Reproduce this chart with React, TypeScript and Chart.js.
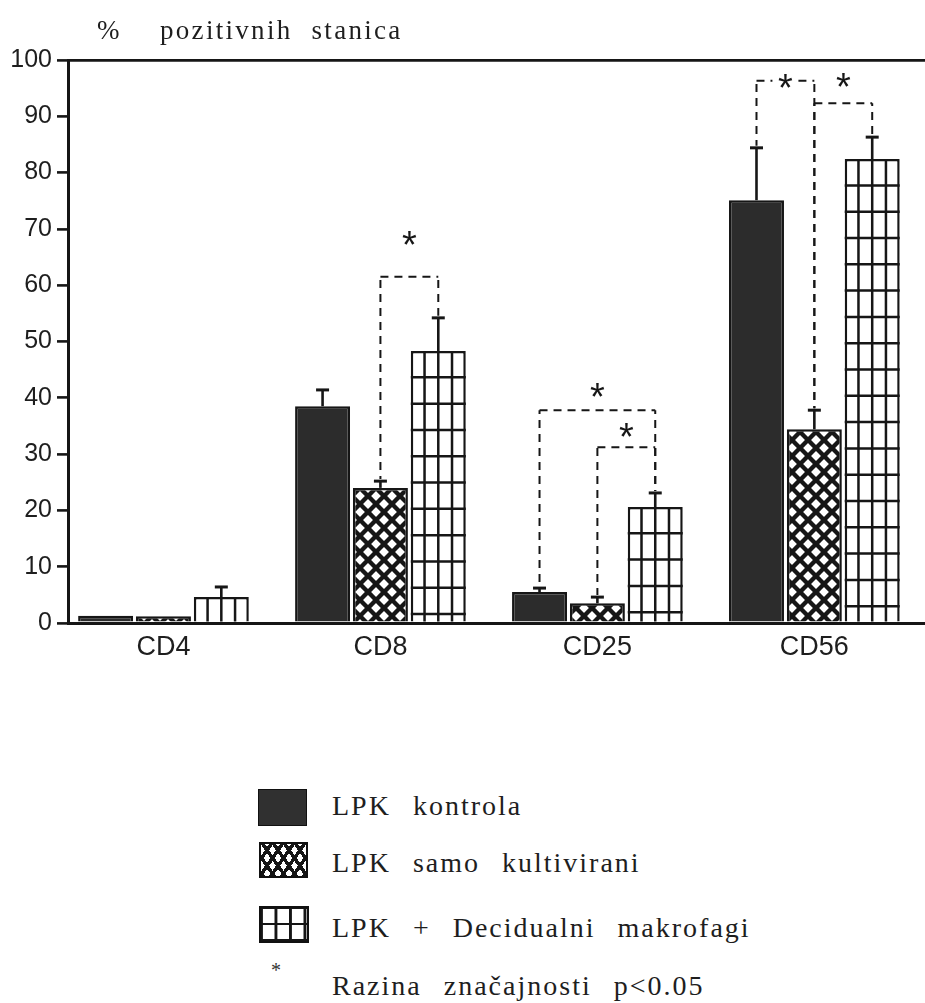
import React, { useEffect, useRef } from 'react';
import { Chart, registerables } from 'chart.js';

Chart.register(...registerables);

const CATEGORIES = ['CD4', 'CD8', 'CD25', 'CD56'];
const SERIES_NAMES = ['LPK kontrola', 'LPK samo kultivirani', 'LPK + Decidualni makrofagi'];
const CONTROL = [1.3, 38.5, 5.5, 75.1];
const CONTROL_SD = [0, 2.9, 0.7, 9.3];
const CULTURED = [1.2, 24.0, 3.5, 34.4];
const CULTURED_SD = [0, 1.2, 1.1, 3.4];
const MACROPHAGE = [4.6, 48.3, 20.6, 82.4];
const MACROPHAGE_SD = [1.8, 5.9, 2.5, 3.9];
const Y_TICKS = [0, 10, 20, 30, 40, 50, 60, 70, 80, 90, 100];

// significance brackets (category index, bar from, bar to, bracket level, star level)
const SIG_CATEGORY = [1, 2, 2, 3, 3];
const SIG_FROM = [1, 0, 1, 0, 1];
const SIG_TO = [2, 2, 2, 1, 2];
const SIG_LEVEL = [61.5, 37.8, 31.2, 96.3, 92.3];
const SIG_STAR = [68.4, 41.4, 34.3, 96.3, 96.4];
const SIG_INLINE = [false, false, false, true, false];

const AXIS_UNIT = '%';
const AXIS_TITLE = 'pozitivnih stanica';
const NOTE_TEXT = 'Razina značajnosti p<0.05';

const INK = '#161616';
const SANS = '"Liberation Sans", Arial, sans-serif';
const SERIF = '"Liberation Serif", "Times New Roman", serif';
const DASH = [8, 6];
const DASH_PERIOD = 14;

function makeCrossPattern(): CanvasPattern | string {
  const c = document.createElement('canvas');
  const s = 16;
  c.width = s;
  c.height = s;
  const g = c.getContext('2d');
  if (!g) return '#555';
  g.fillStyle = '#ffffff';
  g.fillRect(0, 0, s, s);
  g.strokeStyle = INK;
  g.lineWidth = 4.4;
  const seg = (x1: number, y1: number, x2: number, y2: number) => {
    g.beginPath();
    g.moveTo(x1, y1);
    g.lineTo(x2, y2);
    g.stroke();
  };
  seg(-s, -s, 2 * s, 2 * s);
  seg(-s, 0, s, 2 * s);
  seg(0, -s, 2 * s, s);
  seg(2 * s, -s, -s, 2 * s);
  seg(s, -s, -s, s);
  seg(2 * s, 0, 0, 2 * s);
  const p = g.createPattern(c, 'repeat');
  return p || '#555';
}

const annotationPlugin = {
  id: 'annotations',
  afterDatasetsDraw(chart: any) {
    const ctx = chart.ctx as CanvasRenderingContext2D;
    const yScale = chart.scales.y;
    const values = [CONTROL, CULTURED, MACROPHAGE];
    const sds = [CONTROL_SD, CULTURED_SD, MACROPHAGE_SD];
    ctx.save();

    // grid pattern inside macrophage bars
    const gridMeta = chart.getDatasetMeta(2);
    ctx.strokeStyle = INK;
    ctx.lineWidth = 2.5;
    gridMeta.data.forEach((bar: any) => {
      const w = bar.width;
      const left = bar.x - w / 2;
      const top = bar.y;
      const bottom = bar.base;
      ctx.beginPath();
      for (let k = 1; k < 4; k++) {
        const x = left + (w * k) / 4;
        ctx.moveTo(x, top);
        ctx.lineTo(x, bottom);
      }
      for (let yy = top + 26.3; yy < bottom - 4; yy += 26.3) {
        ctx.moveTo(left, yy);
        ctx.lineTo(left + w, yy);
      }
      ctx.stroke();
    });

    // error bars (upper half only)
    const topOf = (di: number, ci: number) => {
      const bar = chart.getDatasetMeta(di).data[ci];
      const sd = sds[di][ci];
      return { x: bar.x, y: yScale.getPixelForValue(values[di][ci] + sd), bar, sd };
    };
    ctx.strokeStyle = INK;
    for (let di = 0; di < 3; di++) {
      for (let ci = 0; ci < CATEGORIES.length; ci++) {
        const t = topOf(di, ci);
        if (!t.sd) continue;
        ctx.lineWidth = 2.6;
        ctx.beginPath();
        ctx.moveTo(t.x, t.bar.y);
        ctx.lineTo(t.x, t.y);
        ctx.stroke();
        ctx.lineWidth = 3;
        ctx.beginPath();
        ctx.moveTo(t.x - 6.5, t.y);
        ctx.lineTo(t.x + 6.5, t.y);
        ctx.stroke();
      }
    }

    // dashed vertical leg anchored to absolute dash phase so shared legs coincide
    const leg = (x: number, yTop: number, yBottom: number) => {
      ctx.setLineDash(DASH);
      ctx.lineDashOffset = ((yTop % DASH_PERIOD) + DASH_PERIOD) % DASH_PERIOD;
      ctx.beginPath();
      ctx.moveTo(x, yTop);
      ctx.lineTo(x, yBottom);
      ctx.stroke();
    };
    const hline = (x1: number, x2: number, y: number) => {
      ctx.setLineDash(DASH);
      ctx.lineDashOffset = 0;
      ctx.beginPath();
      ctx.moveTo(x1, y);
      ctx.lineTo(x2, y);
      ctx.stroke();
    };

    // significance brackets
    ctx.font = '38px ' + SANS;
    ctx.textAlign = 'center';
    ctx.textBaseline = 'alphabetic';
    const m = ctx.measureText('*');
    const asc = m.actualBoundingBoxAscent;
    const desc = m.actualBoundingBoxDescent;
    for (let i = 0; i < SIG_LEVEL.length; i++) {
      const a = topOf(SIG_FROM[i], SIG_CATEGORY[i]);
      const b = topOf(SIG_TO[i], SIG_CATEGORY[i]);
      const ly = yScale.getPixelForValue(SIG_LEVEL[i]);
      const mid = (a.x + b.x) / 2;
      ctx.strokeStyle = INK;
      ctx.lineWidth = 2;
      leg(a.x, ly, a.y - 2);
      leg(b.x, ly, b.y - 2);
      if (SIG_INLINE[i]) {
        hline(a.x, mid - 13, ly);
        hline(mid + 13, b.x, ly);
      } else {
        hline(a.x, b.x, ly);
      }
      ctx.setLineDash([]);
      const sy = yScale.getPixelForValue(SIG_STAR[i]);
      ctx.fillStyle = INK;
      ctx.fillText('*', mid, sy + (asc - desc) / 2);
    }
    ctx.restore();
  },
};

const legendText: React.CSSProperties = {
  position: 'absolute',
  left: 332,
  font: '28px ' + SERIF,
  lineHeight: '28px',
  letterSpacing: '2px',
  wordSpacing: '13px',
  whiteSpace: 'nowrap',
  color: '#1e1e1e',
};

export default function App() {
  const canvasRef = useRef<HTMLCanvasElement | null>(null);

  useEffect(() => {
    const canvas = canvasRef.current;
    if (!canvas) return;
    const cross = makeCrossPattern();
    const fills: any[] = ['#2c2c2c', cross, '#ffffff'];
    const seriesValues = [CONTROL, CULTURED, MACROPHAGE];
    const chart = new Chart(canvas, {
      type: 'bar',
      data: {
        datasets: seriesValues.map((vals, di) => ({
          label: SERIES_NAMES[di],
          data: vals.map((v, i) => ({ x: i, y: v })),
          backgroundColor: fills[di],
          borderColor: INK,
          borderWidth: 2.5,
          categoryPercentage: 0.8,
          barPercentage: 0.95,
        })),
      },
      options: {
        animation: false,
        responsive: false,
        maintainAspectRatio: false,
        events: [],
        layout: { padding: { top: 60, left: 0, right: 0, bottom: 0 } },
        plugins: {
          legend: { display: false },
          tooltip: { enabled: false },
          title: { display: false },
        },
        scales: {
          x: {
            type: 'linear',
            offset: false,
            min: -0.44,
            max: 3.51,
            afterBuildTicks: (s: any) => {
              s.ticks = CATEGORIES.map((_, i) => ({ value: i }));
            },
            afterFit: (s: any) => {
              s.height = 57;
            },
            ticks: {
              callback: (v: any) => CATEGORIES[v as number] ?? '',
              font: { family: SANS, size: 27 },
              color: '#1e1e1e',
              padding: 0,
              autoSkip: false,
              maxRotation: 0,
            },
            grid: { display: false, offset: false },
            border: { display: true, color: INK, width: 3 },
          },
          y: {
            min: 0,
            max: 100,
            afterBuildTicks: (s: any) => {
              s.ticks = Y_TICKS.map((v) => ({ value: v }));
            },
            afterFit: (s: any) => {
              s.width = 68;
            },
            ticks: {
              font: { family: SANS, size: 25 },
              color: '#1e1e1e',
              padding: 5,
            },
            grid: {
              display: true,
              drawOnChartArea: true,
              drawTicks: true,
              color: (c: any) => (c.tick && c.tick.value === 100 ? INK : 'rgba(0,0,0,0)'),
              lineWidth: 2.8,
              tickColor: INK,
              tickWidth: 2.6,
              tickLength: 11,
            },
            border: { display: true, color: INK, width: 3 },
          },
        },
      } as any,
      plugins: [annotationPlugin],
    });
    return () => chart.destroy();
  }, []);

  return (
    <div style={{ position: 'absolute', left: 0, top: 0, width: 925, height: 1003, background: '#ffffff', overflow: 'hidden' }}>
      <canvas ref={canvasRef} width={925} height={680} style={{ position: 'absolute', left: 0, top: 0, width: 925, height: 680 }} />
      <span style={{ position: 'absolute', left: 97, top: 17, font: '27px ' + SERIF, lineHeight: '27px', color: '#1e1e1e' }}>{AXIS_UNIT}</span>
      <span style={{ position: 'absolute', left: 160, top: 17, font: '27px ' + SERIF, lineHeight: '27px', letterSpacing: '2.3px', wordSpacing: '10px', whiteSpace: 'nowrap', color: '#1e1e1e' }}>{AXIS_TITLE}</span>

      <div style={{ position: 'absolute', left: 258, top: 789, width: 49, height: 37, boxSizing: 'border-box', border: '1.5px solid #111', background: '#303030' }} />
      <div style={{ position: 'absolute', left: 259, top: 842, width: 49, height: 36, boxSizing: 'border-box', border: '2.5px solid #111', backgroundColor: '#fff', backgroundImage: 'repeating-linear-gradient(55deg, #151515 0 3.5px, transparent 3.5px 9px), repeating-linear-gradient(-55deg, #151515 0 3.5px, transparent 3.5px 9px)' }} />
      <div style={{ position: 'absolute', left: 259, top: 906, width: 50, height: 37, boxSizing: 'border-box', border: '2.5px solid #111', backgroundColor: '#fff', backgroundImage: 'linear-gradient(to right, #151515 0 2.5px, transparent 2.5px), linear-gradient(to bottom, #151515 0 2.5px, transparent 2.5px)', backgroundSize: '14.5px 16px', backgroundPosition: '-1px -1px' }} />
      <span style={{ position: 'absolute', left: 271, top: 960, font: '20px ' + SERIF, lineHeight: '20px', color: '#333' }}>*</span>

      <span style={{ ...legendText, top: 815 - 23 }}>{SERIES_NAMES[0]}</span>
      <span style={{ ...legendText, top: 872 - 23 }}>{SERIES_NAMES[1]}</span>
      <span style={{ ...legendText, top: 937 - 23 }}>{SERIES_NAMES[2]}</span>
      <span style={{ ...legendText, top: 995 - 23 }}>{NOTE_TEXT}</span>
    </div>
  );
}
